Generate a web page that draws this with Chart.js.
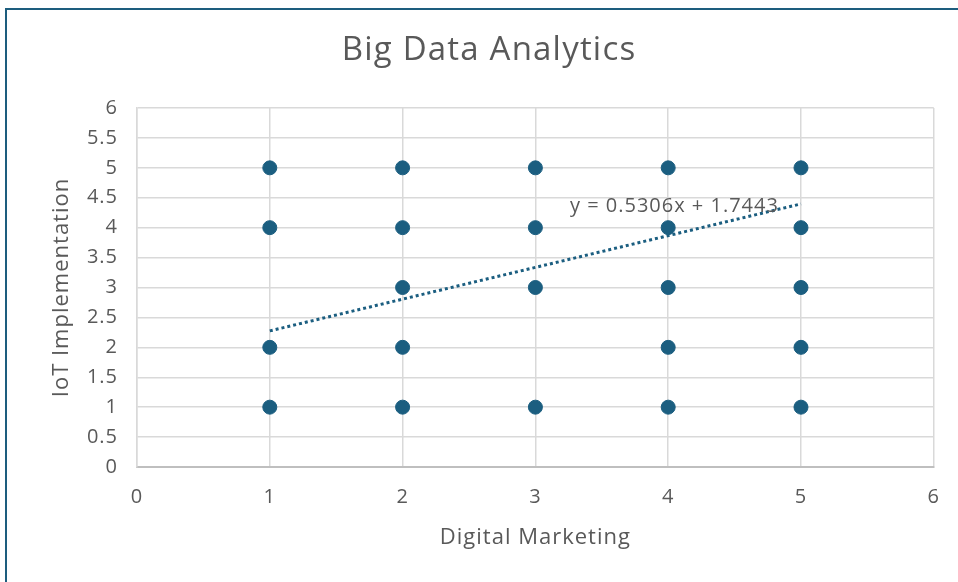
<!DOCTYPE html>
<html>
<head>
<meta charset="utf-8">
<script src="https://cdn.jsdelivr.net/npm/chart.js@4.4.1/dist/chart.umd.min.js"></script>
<style>
  html, body { margin: 0; padding: 0; background: #fff; }
  #wrap { position: relative; width: 958px; height: 582px; overflow: hidden; }
  #frame { position: absolute; left: 5px; top: 8px; width: 1000px; height: 700px;
           border-left: 2px solid #1d5d7e; border-top: 2px solid #1d5d7e; }
  canvas { position: absolute; left: 0; top: 0; }
</style>
</head>
<body>
<div id="wrap">
  <div id="frame"></div>
  <canvas id="scatterChart" width="958" height="582"></canvas>
</div>
<script>
// survey responses (Digital Marketing score vs IoT Implementation score)
const digitalMarketing = [1, 1, 1, 1, 2, 2, 2, 2, 2, 3, 3, 3, 3, 4, 4, 4, 4, 4, 5, 5, 5, 5, 5];
const iotImplementation = [5, 4, 2, 1, 5, 4, 3, 2, 1, 5, 4, 3, 1, 5, 4, 3, 2, 1, 5, 4, 3, 2, 1];

// linear trendline endpoints as shown (y = 0.5306x + 1.7443)
const trendX = [1, 5];
const trendY = [2.275, 4.397];
const trendLabel = "y = 0.5306x + 1.7443";

const xTicks = [0, 1, 2, 3, 4, 5, 6];
const yTicks = [0, 0.5, 1, 1.5, 2, 2.5, 3, 3.5, 4, 4.5, 5, 5.5, 6];

const FONT = "'Open Sans', 'Liberation Sans', sans-serif";
const GRAY = "#595959";
const BLUE = "#1b5e80";

const points = digitalMarketing.map((x, i) => ({ x: x, y: iotImplementation[i] }));
const trend = trendX.map((x, i) => ({ x: x, y: trendY[i] }));

// Excel's font is a bit wider than Open Sans, so space the letters a little
const spacing = {
  id: "spacing",
  beforeLayout(chart) { chart.ctx.letterSpacing = "1px"; },
  beforeDraw(chart) { chart.ctx.letterSpacing = "1px"; }
};

// title + equation text
const extras = {
  id: "extras",
  afterDatasetsDraw(chart) {
    const ctx = chart.ctx;
    const xs = chart.scales.x, ys = chart.scales.y;
    ctx.save();
    ctx.fillStyle = GRAY;
    ctx.textAlign = "center";
    ctx.textBaseline = "middle";
    ctx.letterSpacing = "1.2px";
    ctx.font = "33px " + FONT;
    ctx.fillText("Big Data Analytics", 489, 51);
    ctx.letterSpacing = "1px";
    ctx.font = "20px " + FONT;
    ctx.textAlign = "left";
    ctx.fillText(trendLabel, xs.getPixelForValue(3.26), ys.getPixelForValue(4.35));
    ctx.restore();
  }
};

new Chart(document.getElementById("scatterChart").getContext("2d"), {
  type: "scatter",
  data: {
    datasets: [
      {
        label: "Trendline",
        type: "line",
        data: trend,
        borderColor: BLUE,
        borderWidth: 3,
        borderDash: [3, 3],
        pointRadius: 0,
        fill: false,
        order: 1
      },
      {
        label: "IoT Implementation",
        data: points,
        backgroundColor: BLUE,
        borderColor: BLUE,
        pointRadius: 7,
        pointHoverRadius: 7,
        order: 0
      }
    ]
  },
  options: {
    responsive: false,
    animation: false,
    layout: { padding: { top: 108, right: 24, left: 0, bottom: 0 } },
    plugins: {
      legend: { display: false },
      title: { display: false },
      tooltip: { enabled: false }
    },
    scales: {
      x: {
        type: "linear",
        min: 0,
        max: 6,
        afterBuildTicks: s => { s.ticks = xTicks.map(v => ({ value: v })); },
        afterFit: s => { s.height = 115; },
        grid: { color: "#d9d9d9", lineWidth: 1.5, drawTicks: false },
        border: { color: "#bfbfbf", width: 2 },
        ticks: { color: GRAY, font: { family: FONT, size: 20 }, padding: 18, callback: v => String(v) },
        title: {
          display: true,
          text: "Digital Marketing",
          color: GRAY,
          font: { family: FONT, size: 22 },
          padding: { top: 31, bottom: 31 }
        }
      },
      y: {
        type: "linear",
        min: 0,
        max: 6,
        afterBuildTicks: s => { s.ticks = yTicks.map(v => ({ value: v })); },
        afterFit: s => { s.width = 137; },
        grid: { color: "#d9d9d9", lineWidth: 1.5, drawTicks: false },
        border: { color: "#d9d9d9", width: 1.5 },
        ticks: { color: GRAY, font: { family: FONT, size: 20 }, padding: 19, callback: v => String(v) },
        title: {
          display: true,
          text: "IoT Implementation",
          color: GRAY,
          font: { family: FONT, size: 22 },
          padding: { top: 49, bottom: 49 }
        }
      }
    }
  },
  plugins: [spacing, extras]
});
</script>
</body>
</html>
